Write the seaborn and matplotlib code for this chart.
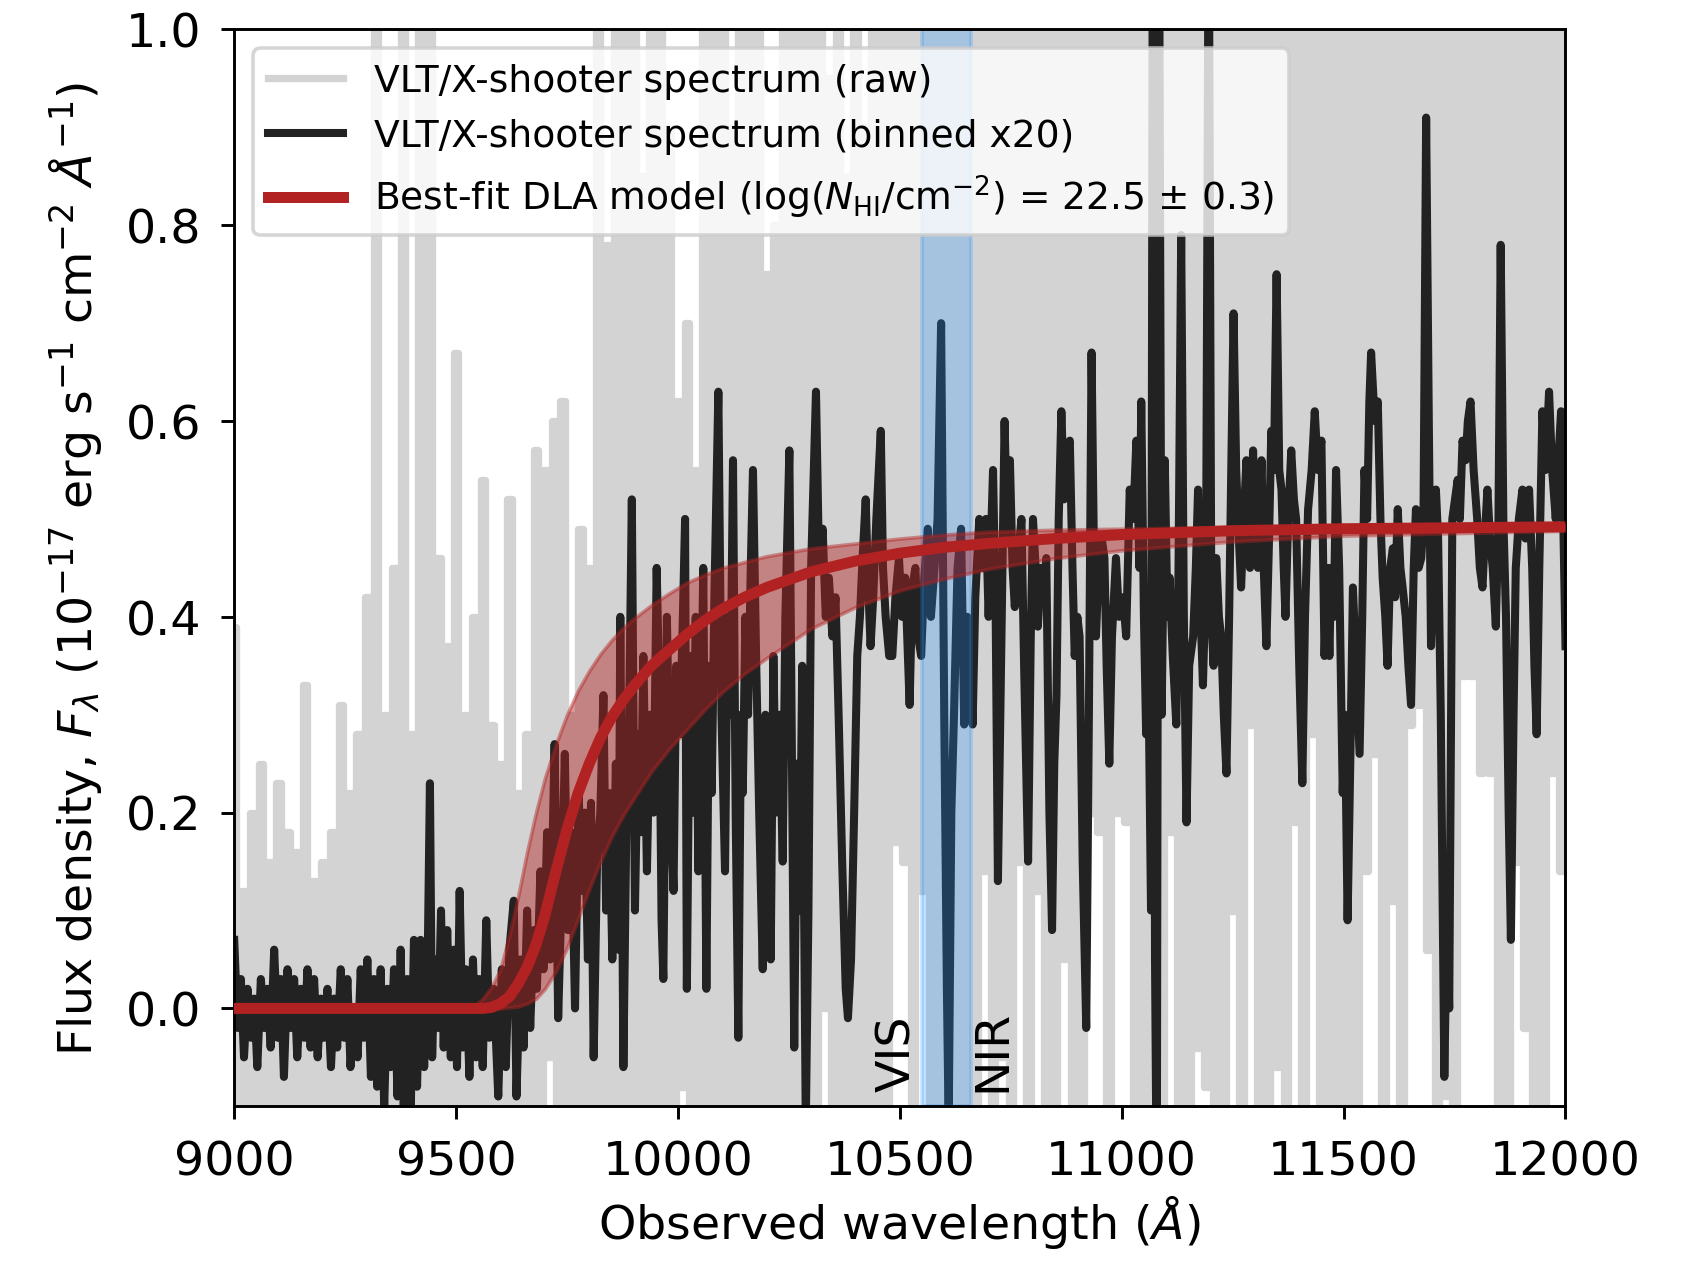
"""DLA fit to the VLT/X-shooter spectrum."""
import matplotlib
matplotlib.use("Agg")
import matplotlib.pyplot as plt
import numpy as np
import seaborn as sns

# raw spectrum, 10 A steps (values read by eye; spikes clipped above/below the axes)
raw_wave = list(range(9000, 12001, 10))
raw_flux = [
    0.39, -0.18, 0.12, -0.15, 0.20, -0.2, 0.25, -0.16, 0.15, -0.18,
    0.23, -0.2, 0.18, -0.15, 0.16, -0.18, 0.33, -0.2, 0.13, -0.16,
    0.15, -0.17, 0.18, -0.2, 0.31, -0.15, 0.22, -0.19, 0.28, -0.16,
    0.42, -0.2, 1.2, -0.18, 0.30, -0.2, 0.45, -0.17, 1.2, -0.2,
    0.28, -0.16, 1.2, -0.2, 1.2, -0.18, 0.46, -0.2, 0.37, -0.17,
    0.67, -0.2, 0.30, -0.17, 0.40, -0.2, 0.54, -0.18, 0.29, -0.2,
    0.25, -0.18, 0.52, -0.2, 0.22, -0.16, 0.28, -0.2, 0.57, -0.18,
    0.55, -0.05, 0.60, -0.2, 0.62, -0.18, 0.30, -0.2, 0.49, -0.16,
    0.45, -0.2, 1.2, -0.18, 0.78, -0.2, 1.2, -0.15, 1.2, -0.2,
    1.2, -0.18, 0.85, -0.2, 1.2, -0.16, 1.2, -0.2, 0.9, -0.2,
    0.62, -0.08, 0.7, -0.2, 0.55, -0.18, 1.2, -0.2, 1.2, -0.17,
    1.2, -0.2, 0.9, -0.15, 1.2, -0.2, 1.2, -0.18, 1.2, -0.2,
    0.75, -0.2, 0.8, -0.16, 1.2, -0.2, 1.2, -0.2, 1.2, -0.18,
    1.2, -0.2, 1.2, 0.0, 0.95, -0.2, 1.2, -0.17, 0.85, -0.2,
    1.2, -0.2, 0.9, -0.18, 1.2, -0.2, 1.2, -0.15, 1.2, 0.17,
    1.2, 0.15, 1.2, -0.2, 1.2, 0.12, 1.2, -0.2, 1.2, -0.18,
    1.2, -0.2, 1.2, -0.15, 1.2, -0.2, 1.2, -0.1, 1.2, 0.14,
    1.2, -0.2, 1.2, -0.05, 1.2, -0.2, 1.2, 0.15, 1.2, -0.18,
    1.2, 0.12, 1.2, -0.2, 1.2, -0.15, 1.2, 0.05, 1.2, -0.2,
    1.2, -0.18, 1.2, 0.2, 1.2, 0.18, 1.2, -0.2, 1.2, 0.2,
    1.2, 0.19, 1.2, -0.2, 1.2, -0.15, 1.2, -0.2, 1.2, -0.2,
    1.2, 0.18, 1.2, -0.2, 1.2, -0.18, 1.2, -0.04, 1.2, -0.08,
    1.2, -0.2, 1.2, -0.15, 1.2, 0.10, 1.2, -0.2, 1.2, 0.29,
    1.2, -0.2, 1.2, -0.18, 1.2, -0.06, 1.2, -0.2, 1.2, 0.19,
    1.2, -0.2, 1.2, 0.28, 1.2, -0.2, 1.2, -0.18, 1.2, -0.2,
    1.2, -0.2, 1.2, -0.15, 1.2, 0.14, 1.2, 0.26, 1.2, -0.2,
    1.2, 0.11, 1.2, -0.2, 1.2, 0.29, 1.2, 0.31, 1.2, 0.06,
    1.2, -0.2, 1.2, -0.09, 1.2, -0.2, 1.2, 0.34, 1.2, 0.34,
    1.2, 0.24, 1.2, 0.24, 1.2, -0.2, 1.2, -0.18, 1.2, 0.15,
    1.2, -0.02, 1.2, -0.2, 1.2, -0.15, 1.2, 0.24, 1.2, 0.14,
    1.2,
]

# binned x20 spectrum
bin_wave = [
    9000, 9008, 9015, 9022, 9030, 9038, 9045, 9052, 9060, 9068, 9075, 9082, 9090, 9098,
    9105, 9112, 9120, 9128, 9135, 9142, 9150, 9158, 9165, 9172, 9180, 9188, 9195, 9202,
    9210, 9218, 9225, 9232, 9240, 9248, 9255, 9262, 9270, 9278, 9285, 9292, 9300, 9308,
    9315, 9322, 9330, 9338, 9345, 9352, 9360, 9368, 9375, 9382, 9390, 9398, 9405, 9412,
    9420, 9428, 9436, 9441, 9446, 9452, 9460, 9466, 9472, 9480, 9488, 9495, 9502, 9508,
    9515, 9522, 9530, 9538, 9545, 9552, 9560, 9568, 9575, 9585, 9595, 9603, 9612, 9620,
    9630, 9636, 9645, 9652, 9660, 9667, 9675, 9682, 9690, 9697, 9705, 9712, 9722, 9730,
    9738, 9745, 9752, 9760, 9768, 9776, 9784, 9790, 9797, 9804, 9810, 9818, 9825, 9832,
    9838, 9845, 9852, 9860, 9866, 9870, 9877, 9884, 9890, 9896, 9903, 9910, 9916, 9922,
    9930, 9937, 9945, 9952, 9958, 9963, 9967, 9975, 9982, 9990, 9996,
    10004, 10010, 10016, 10020, 10027, 10034, 10040, 10046, 10052, 10057, 10064, 10070,
    10076, 10082, 10091, 10098, 10106, 10112, 10118, 10124, 10130, 10136, 10142, 10146,
    10152, 10158, 10164, 10169, 10176, 10183, 10191, 10197, 10203, 10209, 10215, 10221,
    10229, 10236, 10242, 10251, 10256, 10262, 10268, 10274, 10280, 10288, 10294, 10300,
    10306, 10311, 10318, 10326, 10333, 10340, 10348, 10355, 10362, 10370, 10378, 10383,
    10390, 10397, 10404, 10410, 10416, 10423, 10428, 10434, 10440, 10447, 10457, 10462,
    10468, 10476, 10483, 10490, 10498,
    10505, 10512, 10518, 10522, 10528, 10535, 10541, 10548, 10555, 10563, 10570, 10578,
    10585, 10593, 10600, 10606, 10610, 10616, 10622, 10630, 10638, 10645, 10652, 10658,
    10664, 10670, 10679, 10686, 10694, 10700, 10710, 10716, 10721, 10728, 10736, 10742,
    10748, 10754, 10759, 10766, 10774, 10780, 10789, 10795, 10800, 10806, 10811, 10818,
    10824, 10830, 10837, 10843, 10848, 10853, 10858, 10864, 10870, 10876, 10883, 10889,
    10894, 10900, 10905, 10912, 10920, 10926, 10932, 10937, 10942, 10948, 10955, 10961,
    10966, 10972, 10978, 10987, 10994,
    11003, 11010, 11018, 11026, 11033, 11040, 11044, 11050, 11055, 11060, 11066, 11070,
    11075, 11079, 11084, 11090, 11097, 11103, 11108, 11115, 11123, 11128, 11134, 11140,
    11146, 11152, 11161, 11167, 11172, 11178, 11183, 11190, 11196, 11202, 11207, 11213,
    11219, 11224, 11230, 11236, 11242, 11252, 11258, 11264, 11269, 11275, 11281, 11289,
    11296, 11301, 11307, 11315, 11320, 11326, 11332, 11337, 11343, 11349, 11355, 11360,
    11365, 11369, 11375, 11382, 11388, 11393, 11400, 11407, 11413, 11420, 11428, 11435,
    11442, 11450, 11457, 11463, 11468, 11472, 11478, 11483, 11490,
    11498, 11503, 11509, 11515, 11521, 11528, 11536, 11542, 11547, 11553, 11558, 11562,
    11570, 11577, 11583, 11588, 11594, 11599, 11605, 11611, 11616, 11622, 11628, 11633,
    11640, 11646, 11652, 11658, 11663, 11669, 11675, 11680, 11686, 11692, 11697, 11703,
    11708, 11713, 11719, 11727, 11733, 11738, 11745, 11751, 11757, 11762, 11768, 11775,
    11780, 11786, 11793, 11801, 11807, 11813, 11818, 11824, 11830, 11836, 11843, 11849,
    11854, 11860, 11866, 11872, 11877, 11883, 11888, 11895, 11903, 11910, 11918, 11925,
    11930, 11935, 11941, 11948, 11955, 11963, 11970, 11978, 11984, 11990, 11995, 12000,
]
bin_flux = [
    0.07, -0.02, 0.03, -0.05, 0.02, -0.03, 0.01, -0.06, 0.03, -0.02, 0.02, -0.04, 0.06, -0.03,
    0.03, -0.07, 0.04, -0.02, 0.03, -0.05, 0.02, -0.03, 0.04, -0.04, 0.03, -0.05, 0.01, -0.03,
    0.02, -0.06, 0.01, -0.04, 0.04, -0.03, 0.03, -0.06, 0.00, -0.05, 0.04, -0.03, 0.05, -0.07,
    0.03, -0.08, 0.04, -0.10, 0.02, -0.06, 0.04, -0.09, 0.06, -0.10, 0.03, -0.10, 0.07, -0.08,
    0.07, -0.06, 0.05, 0.23, -0.05, 0.05, -0.02, 0.10, -0.04, 0.08, -0.05, 0.06, -0.06, 0.12,
    -0.04, 0.04, -0.07, 0.05, -0.05, 0.03, -0.06, 0.09, -0.03, 0.02, -0.09, 0.04, -0.06, 0.06,
    0.11, -0.09, 0.05, -0.04, 0.10, -0.02, 0.08, 0.02, 0.14, 0.04, 0.18, 0.05, 0.27, -0.01,
    0.12, 0.26, 0.08, 0.18, 0.00, 0.22, 0.12, 0.20, 0.05, 0.21, -0.05, 0.16, 0.20, 0.32,
    0.10, 0.22, 0.05, 0.25, 0.06, 0.40, -0.06, 0.20, 0.30, 0.52, 0.10, 0.28, 0.18, 0.36,
    0.14, 0.30, 0.20, 0.45, 0.32, 0.09, 0.03, 0.40, 0.22, 0.12, 0.35,
    0.28, 0.38, 0.50, 0.02, 0.36, 0.20, 0.40, 0.14, 0.30, 0.45, 0.02, 0.35,
    0.22, 0.42, 0.63, 0.30, 0.14, 0.40, 0.30, 0.56, 0.20, -0.03, 0.30, 0.22,
    0.40, 0.30, 0.45, 0.55, 0.36, 0.20, 0.04, 0.30, 0.25, 0.05, 0.36, 0.20,
    0.30, 0.15, 0.40, 0.57, 0.30, -0.04, 0.25, 0.10, 0.35, -0.12, 0.10, 0.45,
    0.55, 0.63, 0.45, 0.49, 0.40, 0.44, 0.38, 0.42, 0.30, 0.15, 0.02, -0.01,
    0.05, 0.20, 0.36, 0.40, 0.46, 0.52, 0.44, 0.37, 0.42, 0.50, 0.59, 0.45,
    0.40, 0.36, 0.36, 0.42, 0.46,
    0.40, 0.44, 0.36, 0.31, 0.43, 0.45, 0.38, 0.36, 0.44, 0.49, 0.40, 0.45,
    0.50, 0.70, 0.30, 0.02, -0.12, 0.20, 0.30, 0.45, 0.49, 0.29, 0.40, 0.35,
    0.29, 0.42, 0.50, 0.45, 0.50, 0.40, 0.55, 0.40, 0.13, 0.35, 0.60, 0.48,
    0.56, 0.45, 0.41, 0.46, 0.50, 0.35, 0.15, 0.38, 0.50, 0.45, 0.39, 0.45,
    0.42, 0.46, 0.20, 0.08, 0.25, 0.32, 0.50, 0.61, 0.52, 0.57, 0.58, 0.45,
    0.36, 0.40, 0.38, 0.15, -0.02, 0.30, 0.67, 0.48, 0.38, 0.45, 0.48, 0.46,
    0.35, 0.25, 0.38, 0.46, 0.40,
    0.42, 0.38, 0.53, 0.50, 0.58, 0.45, 0.62, 0.40, 0.28, 0.35, 0.10, 1.15,
    0.05, -0.2, 1.15, 0.30, 0.56, 0.40, 0.44, 0.36, 0.29, 0.45, 0.79, 0.40,
    0.19, 0.35, 0.38, 0.45, 0.53, 0.40, 0.33, 0.45, 1.15, 0.40, 0.35, 0.46,
    0.40, 0.38, 0.30, 0.24, 0.40, 0.71, 0.55, 0.48, 0.43, 0.50, 0.56, 0.45,
    0.57, 0.50, 0.45, 0.56, 0.45, 0.37, 0.48, 0.59, 0.55, 0.75, 0.55, 0.53,
    0.45, 0.40, 0.50, 0.57, 0.52, 0.50, 0.35, 0.23, 0.40, 0.51, 0.55, 0.61,
    0.55, 0.58, 0.36, 0.45, 0.36, 0.45, 0.40, 0.55, 0.45,
    0.22, 0.30, 0.09, 0.25, 0.43, 0.35, 0.26, 0.40, 0.55, 0.50, 0.62, 0.67,
    0.60, 0.62, 0.50, 0.44, 0.40, 0.35, 0.45, 0.47, 0.42, 0.51, 0.45, 0.43,
    0.40, 0.35, 0.31, 0.45, 0.51, 0.45, 0.46, 0.50, 0.91, 0.60, 0.37, 0.45,
    0.53, 0.48, 0.30, -0.07, 0.10, 0.00, 0.50, 0.52, 0.54, 0.50, 0.58, 0.56,
    0.60, 0.62, 0.55, 0.50, 0.45, 0.43, 0.48, 0.53, 0.48, 0.45, 0.39, 0.50,
    0.78, 0.50, 0.40, 0.20, 0.07, 0.30, 0.45, 0.50, 0.53, 0.48, 0.53, 0.45,
    0.35, 0.28, 0.45, 0.61, 0.55, 0.63, 0.55, 0.50, 0.56, 0.61, 0.50, 0.37,
]

# best-fit DLA model and its uncertainty band
model_wave = [9000, 9500, 9540, 9560, 9580, 9600, 9620, 9640, 9660, 9680,
              9700, 9725, 9750, 9775, 9800, 9825, 9850, 9875, 9900, 9940,
              9980, 10020, 10060, 10100, 10150, 10200, 10300, 10400, 10500, 10600,
              10700, 10850, 11000, 11250, 11500, 12000]
model_flux = [0, 0, 0, 0, 0.001, 0.005, 0.012, 0.025, 0.042, 0.065,
              0.095, 0.14, 0.183, 0.22, 0.25, 0.276, 0.297, 0.314, 0.329, 0.35,
              0.366, 0.382, 0.396, 0.408, 0.42, 0.43, 0.446, 0.457, 0.465, 0.471,
              0.475, 0.48, 0.484, 0.488, 0.49, 0.492]
model_hi = [0, 0, 0.002, 0.01, 0.022, 0.04, 0.075, 0.115, 0.16, 0.2,
            0.235, 0.27, 0.30, 0.325, 0.345, 0.362, 0.376, 0.388, 0.398, 0.412,
            0.424, 0.435, 0.443, 0.45, 0.456, 0.462, 0.47, 0.475, 0.48, 0.484,
            0.487, 0.489, 0.49, 0.492, 0.493, 0.495]
model_lo = [0, 0, 0, 0, 0, 0, 0.001, 0.002, 0.005, 0.01,
            0.02, 0.038, 0.062, 0.092, 0.122, 0.15, 0.175, 0.196, 0.214, 0.242,
            0.265, 0.285, 0.305, 0.323, 0.342, 0.358, 0.388, 0.41, 0.427, 0.439,
            0.449, 0.46, 0.468, 0.477, 0.483, 0.488]

arm_gap = (10550, 10660)

fig, ax = plt.subplots(figsize=(6.4, 4.8))
fig.subplots_adjust(left=0.139, right=0.929, top=0.976, bottom=0.124)

sns.lineplot(x=raw_wave, y=raw_flux, ax=ax, color="lightgray", lw=2, sort=False,
             estimator=None, drawstyle="steps-mid",
             label="VLT/X-shooter spectrum (raw)", zorder=1)
sns.lineplot(x=bin_wave, y=bin_flux, ax=ax, color="#222222", lw=2.2, sort=False,
             estimator=None, label="VLT/X-shooter spectrum (binned x20)", zorder=2)
ax.axvspan(*arm_gap, color="dodgerblue", alpha=0.25, lw=1, zorder=2.5)
ax.fill_between(model_wave, model_lo, model_hi, color="firebrick", alpha=0.45, lw=1, zorder=3)
sns.lineplot(x=model_wave, y=model_flux, ax=ax, color="firebrick", lw=3, sort=False,
             estimator=None, zorder=4,
             label=r"Best-fit DLA model (log($N_{\rm HI}$/cm$^{-2}$) = 22.5 $\pm$ 0.3)")

ax.text(10545, -0.085, "VIS", rotation=90, ha="right", va="bottom", fontsize=13)
ax.text(10660, -0.085, "NIR", rotation=90, ha="left", va="bottom", fontsize=13)

ax.set_xlim(9000, 12000)
ax.set_ylim(-0.1, 1.0)
ax.set_xticks(np.arange(9000, 12001, 500))
ax.set_yticks(np.arange(0, 1.01, 0.2))
ax.tick_params(labelsize=13, pad=5.5)
ax.set_xlabel(r"Observed wavelength ($\AA$)", fontsize=13, labelpad=2.5)
ax.set_ylabel(r"Flux density, $F_\lambda$ ($10^{-17}$ erg s$^{-1}$ cm$^{-2}$ $\AA^{-1}$)",
              fontsize=13, labelpad=6)
ax.legend(loc="upper left", fontsize=10.3, framealpha=0.8)

fig.savefig("out.png", dpi=263.3)
